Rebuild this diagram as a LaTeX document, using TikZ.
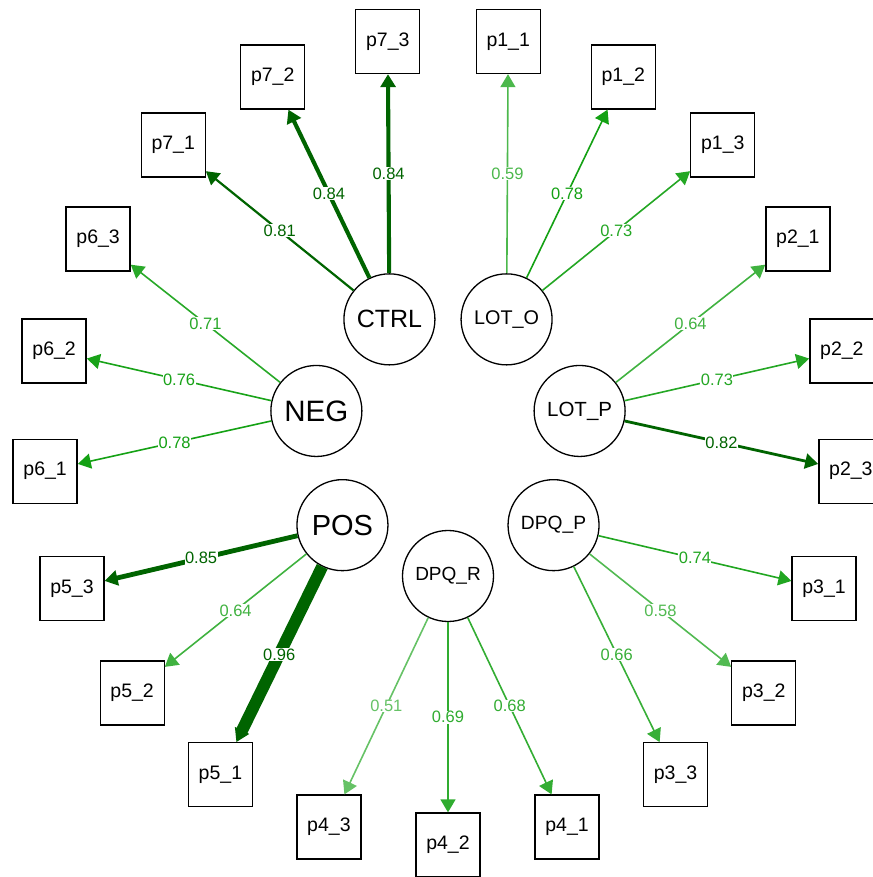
\documentclass[tikz,border=0pt]{standalone}
\usepackage{fontspec}
\setmainfont{Liberation Sans}
\usetikzlibrary{arrows.meta}
\definecolor{posgreen}{RGB}{0,153,0}
\definecolor{posdark}{RGB}{0,100,0}

\begin{document}
\begin{tikzpicture}[x=1pt,y=1pt,
    latent/.style={circle,draw,line width=1.3pt,minimum size=91pt,inner sep=0pt},
    manifest/.style={rectangle,draw,line width=1.3pt,minimum size=64pt,inner sep=0pt,
      font=\fontsize{19.5}{20}\selectfont},
    load/.style={-{Triangle[length=13pt 0 0,width=15pt 0 0]}},
    faint/.style={load,line width=1.6pt,color=posgreen!#1!white},
    strong/.style={load,line width=#1,color=posdark},
    wlab/.style={midway,fill=white,inner sep=0.5pt,font=\fontsize{16.5}{17}\selectfont}]

    \useasboundingbox (-448,-436) rectangle (424,441);

    \node[latent,font=\fontsize{19}{20}\selectfont] (dpq-r) at (-90:135) {DPQ\_R};
    \node[latent,font=\fontsize{19.2}{20}\selectfont] (dpq-p) at (-38.571:135) {DPQ\_P};
    \node[latent,font=\fontsize{20.5}{21}\selectfont] (lot-p) at (12.857:135) {LOT\_P};
    \node[latent,font=\fontsize{19.8}{20}\selectfont] (lot-o) at (64.286:135) {LOT\_O};
    \node[latent,font=\fontsize{25}{26}\selectfont] (ctrl) at (115.714:135) {CTRL};
    \node[latent,font=\fontsize{29.5}{30}\selectfont] (neg) at (167.143:135) {NEG};
    \node[latent,font=\fontsize{29}{30}\selectfont] (pos) at (218.571:135) {POS};

    \node[manifest] (p4-2) at (-90:404) {p4\_2};
    \node[manifest] (p4-1) at (-72.857:404) {p4\_1};
    \node[manifest] (p3-3) at (-55.714:404) {p3\_3};
    \node[manifest] (p3-2) at (-38.571:404) {p3\_2};
    \node[manifest] (p3-1) at (-21.429:404) {p3\_1};
    \node[manifest] (p2-3) at (-4.286:404) {p2\_3};
    \node[manifest] (p2-2) at (12.857:404) {p2\_2};
    \node[manifest] (p2-1) at (30:404) {p2\_1};
    \node[manifest] (p1-3) at (47.143:404) {p1\_3};
    \node[manifest] (p1-2) at (64.286:404) {p1\_2};
    \node[manifest] (p1-1) at (81.429:404) {p1\_1};
    \node[manifest] (p7-3) at (98.571:404) {p7\_3};
    \node[manifest] (p7-2) at (115.714:404) {p7\_2};
    \node[manifest] (p7-1) at (132.857:404) {p7\_1};
    \node[manifest] (p6-3) at (150:404) {p6\_3};
    \node[manifest] (p6-2) at (167.143:404) {p6\_2};
    \node[manifest] (p6-1) at (184.286:404) {p6\_1};
    \node[manifest] (p5-3) at (201.429:404) {p5\_3};
    \node[manifest] (p5-2) at (218.571:404) {p5\_2};
    \node[manifest] (p5-1) at (235.714:404) {p5\_1};
    \node[manifest] (p4-3) at (252.857:404) {p4\_3};

    \draw[faint=70] (lot-o) -- (p1-1) node[wlab] {0.59};
    \draw[faint=92] (lot-o) -- (p1-2) node[wlab] {0.78};
    \draw[faint=86] (lot-o) -- (p1-3) node[wlab] {0.73};

    \draw[faint=75] (lot-p) -- (p2-1) node[wlab] {0.64};
    \draw[faint=86] (lot-p) -- (p2-2) node[wlab] {0.73};
    \draw[strong=2.8pt] (lot-p) -- (p2-3) node[wlab] {0.82};

    \draw[faint=87] (dpq-p) -- (p3-1) node[wlab] {0.74};
    \draw[faint=68] (dpq-p) -- (p3-2) node[wlab] {0.58};
    \draw[faint=78] (dpq-p) -- (p3-3) node[wlab] {0.66};

    \draw[faint=80] (dpq-r) -- (p4-1) node[wlab] {0.68};
    \draw[faint=81] (dpq-r) -- (p4-2) node[wlab] {0.69};
    \draw[faint=60] (dpq-r) -- (p4-3) node[wlab] {0.51};

    \draw[strong=12pt] (pos) -- (p5-1) node[wlab] {0.96};
    \draw[faint=75] (pos) -- (p5-2) node[wlab] {0.64};
    \draw[strong=4.8pt] (pos) -- (p5-3) node[wlab] {0.85};

    \draw[faint=92] (neg) -- (p6-1) node[wlab] {0.78};
    \draw[faint=90] (neg) -- (p6-2) node[wlab] {0.76};
    \draw[faint=84] (neg) -- (p6-3) node[wlab] {0.71};

    \draw[strong=2.2pt] (ctrl) -- (p7-1) node[wlab] {0.81};
    \draw[strong=4.1pt] (ctrl) -- (p7-2) node[wlab] {0.84};
    \draw[strong=4.1pt] (ctrl) -- (p7-3) node[wlab] {0.84};
  \end{tikzpicture}
\end{document}
